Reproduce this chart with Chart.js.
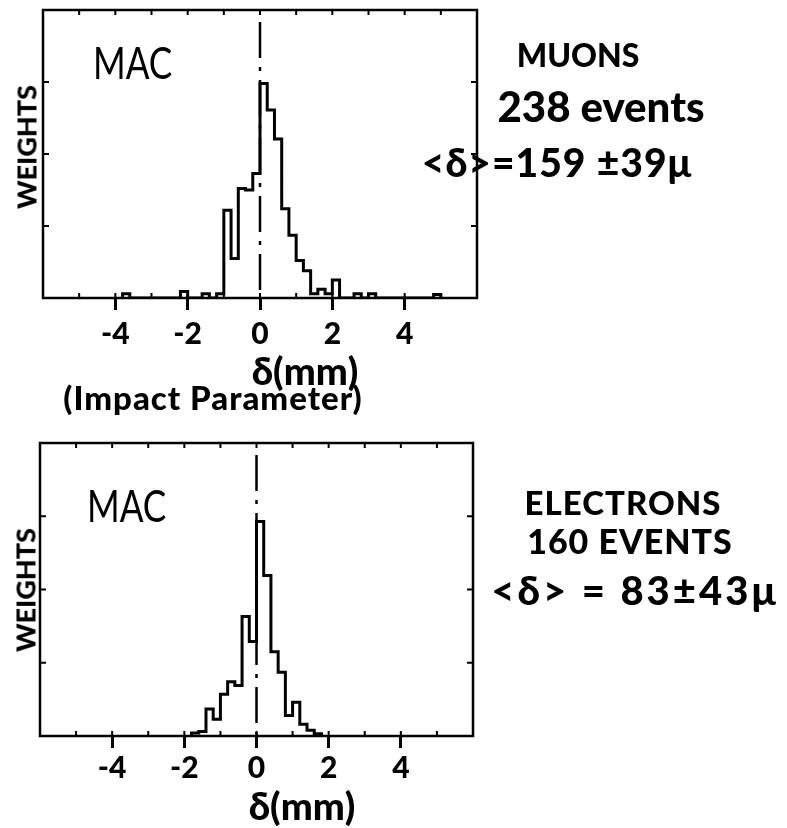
<!DOCTYPE html>
<html>
<head>
<meta charset="utf-8">
<script src="https://cdn.jsdelivr.net/npm/chart.js@4"></script>
<style>
  html, body { margin: 0; padding: 0; background: #fff; }
  body { width: 787px; height: 828px; position: relative; overflow: hidden; font-family: Lato, "DejaVu Sans", sans-serif; color: #000; }
  canvas { position: absolute; left: 0; }
  .t { position: absolute; white-space: nowrap; line-height: 1; transform: translate(-50%, -50%); font-weight: 900; }
  .mac { position: absolute; white-space: nowrap; line-height: 1; font-weight: normal; font-size: 44px; transform: translateY(-50%) scaleX(0.8); transform-origin: left center; }
  .rot { position: absolute; white-space: nowrap; line-height: 1; font-weight: 900; font-size: 27px; transform: translate(-50%, -50%) rotate(-90deg); }
</style>
</head>
<body>
<canvas id="c1" width="787" height="350" style="top:0px"></canvas>
<canvas id="c2" width="787" height="398" style="top:430px"></canvas>

<div class="mac" style="left:93px; top:62px;">MAC</div>
<div class="mac" style="left:87px; top:505px;">MAC</div>
<div class="rot" style="left:26px; top:147px;">WEIGHTS</div>
<div class="rot" style="left:25px; top:590px;">WEIGHTS</div>

<div class="t" style="left:578px; top:55px; font-size:32px;">MUONS</div>
<div class="t" style="left:601px; top:106px; font-size:42px;">238 events</div>
<div class="t" style="left:557px; top:162px; font-size:39px; letter-spacing:1px;">&lt;δ&gt;=159 ±39μ</div>

<div class="t" style="left:305px; top:370px; font-size:38px;">δ(mm)</div>
<div class="t" style="left:213px; top:397px; font-size:33px; letter-spacing:1px;">(Impact Parameter)</div>

<div class="t" style="left:623px; top:502px; font-size:33px; letter-spacing:1px;">ELECTRONS</div>
<div class="t" style="left:630px; top:541px; font-size:34px; letter-spacing:1px;">160 EVENTS</div>
<div class="t" style="left:635px; top:590px; font-size:40px; letter-spacing:3px;">&lt;δ&gt; = 83±43μ</div>

<div class="t" style="left:302px; top:805px; font-size:38px;">δ(mm)</div>

<script>
// ---- data (bin lower edges in mm, weights per 0.2 mm bin) ----
const muonBinLow = [-3.8, -3.6, -3.4, -3.2, -3.0, -2.8, -2.6, -2.4, -2.2, -2.0, -1.8, -1.6, -1.4, -1.2,
  -1.0, -0.8, -0.6, -0.4, -0.2, 0.0, 0.2, 0.4, 0.6, 0.8, 1.0, 1.2, 1.4, 1.6, 1.8, 2.0,
  2.2, 2.4, 2.6, 2.8, 3.0, 3.2, 3.4, 3.6, 3.8, 4.0, 4.2, 4.4, 4.6, 4.8];
const muonWeights = [0.6, 0, 0, 0, 0, 0, 0, 0, 0.9, 0, 0, 0.6, 0, 0.6,
  12.2, 5.5, 15.2, 15.0, 17.3, 29.8, 26.1, 22.1, 12.4, 8.7, 5.2, 3.8, 0.6, 1.2, 0.6, 2.5,
  0, 0, 0.6, 0, 0.6, 0, 0, 0, 0, 0, 0, 0, 0, 0.5];

const electronBinLow = [-1.8, -1.6, -1.4, -1.2, -1.0, -0.8, -0.6, -0.4, -0.2, 0.0, 0.2, 0.4, 0.6, 0.8, 1.0, 1.2, 1.4, 1.6];
const electronWeights = [0.4, 0.6, 3.7, 2.3, 5.7, 7.4, 6.9, 16.3, 12.9, 29.3, 21.9, 11.5, 8.7, 2.8, 4.6, 1.6, 0.8, 0.3];

const xTickLabels = [-4, -2, 0, 2, 4];
const binWidth = 0.2;
const xRange = [-6, 6];
const yRange = [0, 40];

function stepPoints(lows, weights) {
  const pts = [{ x: lows[0], y: 0 }];
  lows.forEach((x, i) => pts.push({ x: x, y: weights[i] }));
  pts.push({ x: +(lows[lows.length - 1] + binWidth).toFixed(2), y: 0 });
  return pts;
}

const framePlugin = {
  id: 'frame',
  afterDatasetsDraw(chart) {
    const { ctx, chartArea: a, scales: { x, y } } = chart;
    ctx.save();
    ctx.strokeStyle = '#000';
    // dash-dot zero line
    ctx.lineWidth = 2.5;
    ctx.setLineDash([36, 9, 4, 9]);
    ctx.beginPath();
    ctx.moveTo(x.getPixelForValue(0), a.top + 12);
    ctx.lineTo(x.getPixelForValue(0), a.bottom);
    ctx.stroke();
    ctx.setLineDash([]);
    // frame
    ctx.lineWidth = 2.5;
    ctx.strokeRect(a.left, a.top, a.right - a.left, a.bottom - a.top);
    // inner minor ticks
    ctx.lineWidth = 2;
    ctx.beginPath();
    for (let v = -5; v <= 5; v++) {
      const px = x.getPixelForValue(v);
      ctx.moveTo(px, a.top); ctx.lineTo(px, a.top + 5);
      ctx.moveTo(px, a.bottom); ctx.lineTo(px, a.bottom - 5);
    }
    for (let v = 10; v < yRange[1]; v += 10) {
      const py = y.getPixelForValue(v);
      ctx.moveTo(a.left, py); ctx.lineTo(a.left + 6, py);
      ctx.moveTo(a.right, py); ctx.lineTo(a.right - 6, py);
    }
    ctx.stroke();
    ctx.restore();
  }
};

function makeChart(id, lows, weights, pad, labelPad) {
  return new Chart(document.getElementById(id), {
    type: 'line',
    data: {
      datasets: [{
        data: stepPoints(lows, weights),
        stepped: 'before',
        borderColor: '#000',
        borderWidth: 3,
        pointRadius: 0,
        fill: false
      }]
    },
    options: {
      responsive: false,
      animation: false,
      layout: { padding: pad },
      plugins: { legend: { display: false }, tooltip: { enabled: false } },
      scales: {
        x: {
          type: 'linear',
          min: xRange[0], max: xRange[1],
          afterFit(scale) { scale.height = 52; },
          afterBuildTicks(scale) {
            const t = [];
            for (let v = xRange[0]; v <= xRange[1]; v++) t.push({ value: v });
            scale.ticks = t;
          },
          ticks: {
            autoSkip: false,
            maxRotation: 0,
            padding: labelPad,
            color: '#000',
            font: { family: 'Lato', size: 30, weight: '900' },
            callback: (v) => xTickLabels.includes(v) ? String(v) : ''
          },
          border: { display: false },
          grid: {
            drawOnChartArea: false,
            drawTicks: true,
            tickLength: 12,
            lineWidth: 3,
            color: (c) => (c.tick && xTickLabels.includes(c.tick.value)) ? '#000' : 'rgba(0,0,0,0)'
          }
        },
        y: {
          display: false,
          min: yRange[0], max: yRange[1]
        }
      }
    },
    plugins: [framePlugin]
  });
}

makeChart('c1', muonBinLow, muonWeights, { left: 43, right: 310, top: 10, bottom: 0 }, 6);
makeChart('c2', electronBinLow, electronWeights, { left: 40, right: 314, top: 13, bottom: 40 }, 2);
</script>
</body>
</html>
